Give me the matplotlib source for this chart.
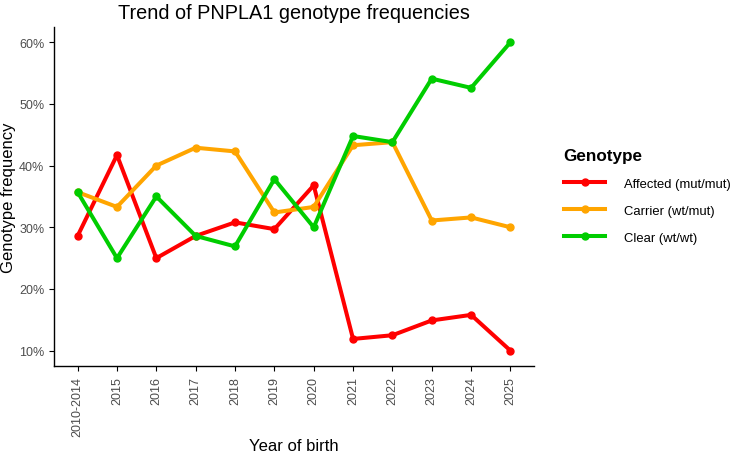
import matplotlib.pyplot as plt
import matplotlib.ticker as mticker

plt.rcParams['font.family'] = ['Liberation Sans', 'DejaVu Sans']

years = ['2010-2014', '2015', '2016', '2017', '2018', '2019', '2020',
         '2021', '2022', '2023', '2024', '2025']
affected = [28.6, 41.7, 25.0, 28.6, 30.8, 29.7, 36.8, 11.9, 12.5, 14.9, 15.8, 10.0]
carrier = [35.7, 33.3, 40.0, 42.9, 42.3, 32.4, 33.3, 43.3, 43.8, 31.1, 31.6, 30.0]
clear = [35.7, 25.0, 35.0, 28.6, 26.9, 37.8, 30.0, 44.8, 43.8, 54.1, 52.6, 60.0]

series = [('Affected (mut/mut)', affected, '#FF0000'),
          ('Carrier (wt/mut)', carrier, '#FFA500'),
          ('Clear (wt/wt)', clear, '#00CD00')]

fig = plt.figure(figsize=(7.34, 4.56), dpi=100)
ax = fig.add_axes([0.0736, 0.195, 0.654, 0.744])

x = list(range(len(years)))
for name, vals, col in series:
    ax.plot(x, vals, color=col, lw=2.9, marker='o', ms=5, label=name)

ax.set_xlim(-0.6, len(years) - 1 + 0.6)
ax.set_ylim(7.5, 62.5)
ax.set_xticks(x)
ax.set_xticklabels(years, rotation=90)
ax.set_yticks([10, 20, 30, 40, 50, 60])
ax.yaxis.set_major_formatter(mticker.FuncFormatter(lambda v, p: f'{v:.0f}%'))
ax.tick_params(colors='black', labelcolor='#4D4D4D', labelsize=9.0,
               length=3.5, width=0.8)
for s in ['top', 'right']:
    ax.spines[s].set_visible(False)
for s in ['left', 'bottom']:
    ax.spines[s].set_linewidth(1.0)

ax.set_xlabel('Year of birth', fontsize=12)
ax.set_ylabel('Genotype frequency', fontsize=12)
ax.xaxis.set_label_coords(0.5, -0.233)
ax.xaxis.label.set_va('center')
ax.yaxis.set_label_coords(-0.094, 0.5)
ax.yaxis.label.set_va('center')
ax.set_title('Trend of PNPLA1 genotype frequencies', fontsize=14.3, pad=6)

leg = fig.legend(title='Genotype', loc='upper left', bbox_to_anchor=(0.752, 0.70),
                 frameon=False, fontsize=9.4, handlelength=3.2,
                 labelspacing=1.15, handletextpad=1.45)
leg.get_title().set_fontweight('bold')
leg.get_title().set_fontsize(12.3)
leg._legend_box.align = 'left'

fig.savefig('out.png', dpi=100)
